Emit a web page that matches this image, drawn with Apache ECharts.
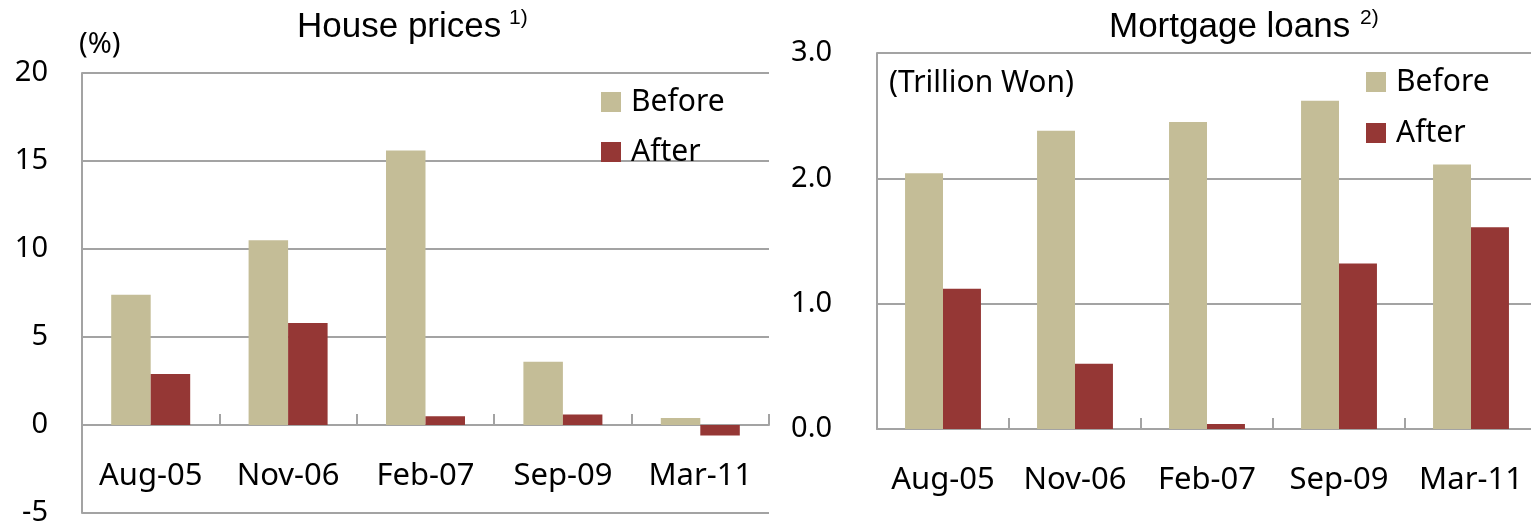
<!DOCTYPE html>
<html>
<head>
<meta charset="utf-8">
<script src="https://cdn.jsdelivr.net/npm/echarts@6/dist/echarts.min.js"></script>
<style>
html,body{margin:0;padding:0;background:#fff;}
#chart{width:1531px;height:527px;}
</style>
</head>
<body>
<div id="chart"></div>
<script>
const categories = ['Aug-05', 'Nov-06', 'Feb-07', 'Sep-09', 'Mar-11'];
const seriesNames = ['Before', 'After'];
const housePricesBefore = [7.4, 10.5, 15.6, 3.6, 0.4];
const housePricesAfter = [2.9, 5.8, 0.5, 0.6, -0.6];
const mortgageBefore = [2.04, 2.38, 2.45, 2.62, 2.11];
const mortgageAfter = [1.12, 0.52, 0.04, 1.32, 1.61];
const houseTicks = [-5, 0, 5, 10, 15, 20];
const mortgageTicks = [0, 1, 2, 3];
const titles = ['House prices', 'Mortgage loans'];
const titleNotes = ['1)', '2)'];
const unitLabels = ['(%)', '(Trillion Won)'];

const colBefore = '#c4bd97';
const colAfter = '#953735';
const gridCol = '#a3a3a3';
const font = '"Noto Sans", "DejaVu Sans", sans-serif';
const titleFont = '"Liberation Sans", Arial, sans-serif';

const grids = [
  { left: 82, top: 73, width: 687, height: 440 },
  { left: 877, top: 53, width: 660, height: 376 }
];
const tickSets = [houseTicks, mortgageTicks];

const chart = echarts.init(document.getElementById('chart'));

function zeroOffset(gi) {
  const t = tickSets[gi];
  const lo = t[0], hi = t[t.length - 1];
  return -grids[gi].height * (0 - lo) / (hi - lo);
}
function catAxis(gi) {
  return {
    type: 'category', gridIndex: gi, data: categories,
    offset: zeroOffset(gi),
    axisLine: { onZero: false, lineStyle: { color: gridCol, width: 2 } },
    axisTick: { show: true, inside: true, length: 11, lineStyle: { color: gridCol, width: 2 } },
    axisLabel: { color: '#000', fontFamily: font, fontSize: 31, margin: 36, interval: 0, hideOverlap: false }
  };
}
function valAxis(gi, margin, fmt) {
  const ticks = tickSets[gi];
  return {
    type: 'value', gridIndex: gi,
    min: ticks[0], max: ticks[ticks.length - 1], interval: ticks[1] - ticks[0],
    axisLine: { show: true, lineStyle: { color: gridCol, width: 2 } },
    axisTick: { show: false },
    splitLine: { lineStyle: { color: gridCol, width: 2 } },
    axisLabel: { color: '#000', fontFamily: font, fontSize: 29, margin: margin, formatter: fmt }
  };
}
function bar(name, data, gi, color) {
  return {
    name: name, type: 'bar', data: data, xAxisIndex: gi, yAxisIndex: gi,
    barGap: '0%', barCategoryGap: '42.5%',
    itemStyle: { color: color }, animation: false
  };
}
function legend(gi, left, top, gap) {
  return {
    orient: 'vertical', left: left, top: top, data: seriesNames, padding: 0,
    icon: 'rect', itemWidth: 20, itemHeight: 20, itemGap: gap,
    textStyle: { color: '#000', fontFamily: font, fontSize: 30, lineHeight: 28, padding: [0, 0, 0, 5] },
    selectedMode: false
  };
}
function txt(x, y, text, size, family) {
  return { type: 'text', left: x, top: y, style: { text: text, fontSize: size, fontFamily: family, fill: '#000' } };
}

chart.setOption({
  animation: false,
  grid: grids.map(g => Object.assign({ containLabel: false, outerBoundsMode: 'none' }, g)),
  xAxis: [catAxis(0), catAxis(1)],
  yAxis: [
    valAxis(0, 34, v => String(v)),
    valAxis(1, 45, v => v.toFixed(1))
  ],
  legend: [legend(0, 601, 87, 20), legend(1, 1366, 67, 21)],
  series: [
    bar(seriesNames[0], housePricesBefore, 0, colBefore),
    bar(seriesNames[1], housePricesAfter, 0, colAfter),
    bar(seriesNames[0], mortgageBefore, 1, colBefore),
    bar(seriesNames[1], mortgageAfter, 1, colAfter)
  ],
  graphic: [
    txt(297, 10, titles[0], 35, titleFont),
    txt(509, 8, titleNotes[0], 21, titleFont),
    txt(1109, 10, titles[1], 35, titleFont),
    txt(1360, 8, titleNotes[1], 21, titleFont),
    txt(79, 30, unitLabels[0], 29, font),
    txt(889, 68, unitLabels[1], 30, font)
  ]
});
</script>
</body>
</html>
